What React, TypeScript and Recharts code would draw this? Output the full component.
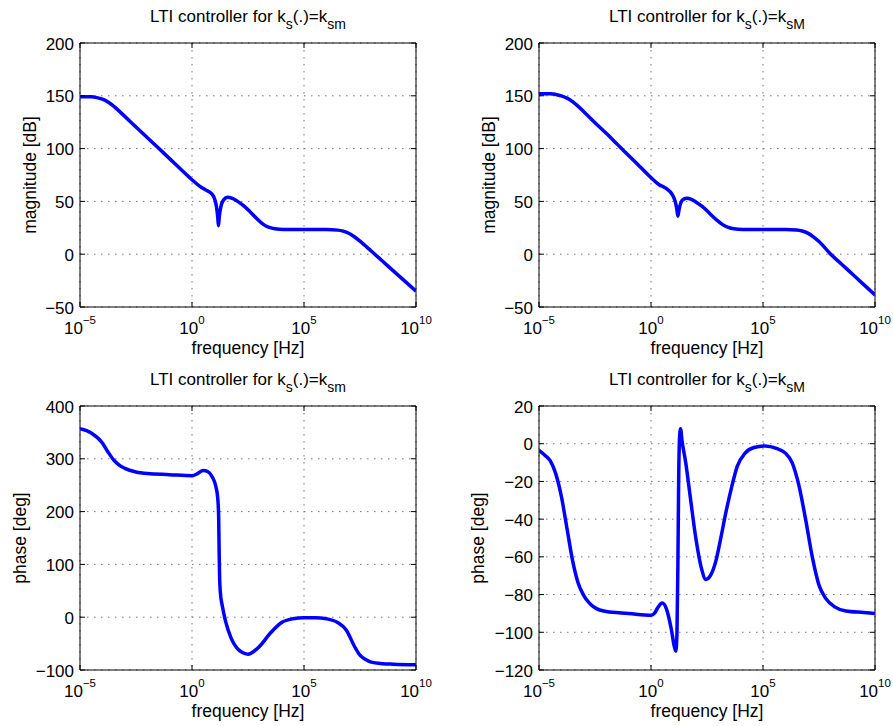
import React from 'react';
import { LineChart, Line, XAxis, YAxis, CartesianGrid, ReferenceArea } from 'recharts';

const FONT = '"Liberation Sans", Arial, Helvetica, sans-serif';

// x axis: log10(frequency [Hz])
const xTicks = [-5, 0, 5, 10];
const magTicks = [-50, 0, 50, 100, 150, 200];
const phaseSmTicks = [-100, 0, 100, 200, 300, 400];
const phaseSMTicks = [-120, -100, -80, -60, -40, -20, 0, 20];

// magnitude, k_s = k_sm
const magSmExp = [-5, -4.5, -4.25, -4, -3.75, -3.5, -3.25, -3, -2.5, -2, -1.5, -1, -0.5, 0, 0.37, 0.6, 0.89, 1.03, 1.1, 1.15, 1.18, 1.22, 1.3, 1.41, 1.59, 1.8, 2.0, 2.3, 2.6, 2.9, 3.2, 3.45, 3.7, 4.1, 5, 6, 6.5, 6.75, 7, 7.25, 7.5, 8, 8.5, 9, 9.5, 10];
const magSmDb = [149, 149, 148.3, 146.8, 144.2, 140.3, 135.5, 130.5, 120.5, 110.5, 100.5, 90.5, 80.5, 70.5, 64, 61, 57, 51, 44, 35, 27, 36, 46, 51.5, 54, 52.8, 50.5, 46, 40, 33.5, 28, 25.3, 24, 23.4, 23.3, 23.3, 22.8, 21.8, 19.8, 16.5, 12.3, 3, -6.5, -16, -25.5, -35];

// magnitude, k_s = k_sM
const magSMExp = [-5, -4.5, -4.25, -4, -3.75, -3.5, -3.25, -3, -2.5, -2, -1.5, -1, -0.5, 0, 0.35, 0.66, 0.96, 1.08, 1.15, 1.2, 1.25, 1.33, 1.45, 1.6, 1.8, 2.0, 2.3, 2.6, 2.9, 3.2, 3.45, 3.7, 4.1, 5, 6, 6.5, 6.75, 7, 7.25, 7.5, 8, 8.5, 9, 9.5, 10];
const magSMDb = [152, 152, 151.3, 150, 147.8, 144.5, 140, 135, 124.5, 114.5, 104, 93.5, 83, 72.5, 66, 62.5, 56, 50, 43, 36, 42, 48.5, 52, 53, 52, 49.5, 45, 39, 33, 28, 25.3, 24, 23.5, 23.5, 23.5, 23, 22, 20, 16.5, 12, 0.5, -9.3, -19, -28.8, -38.5];

// phase, k_s = k_sm
const phaseSmExp = [-5, -4.5, -4, -3.75, -3.5, -3.25, -3, -2.5, -2, -1, 0, 0.25, 0.5, 0.7, 0.9, 1.05, 1.15, 1.19, 1.21, 1.23, 1.27, 1.35, 1.5, 1.75, 2, 2.25, 2.5, 2.75, 3, 3.5, 4, 4.5, 5, 5.5, 6, 6.5, 6.9, 7.25, 7.5, 7.75, 8, 8.5, 9, 10];
const phaseSmDeg = [357, 349, 330, 313, 298, 288, 282, 275, 272, 270, 268, 272, 278, 276, 266, 250, 225, 190, 130, 80, 45, 22, -8, -40, -58, -67, -70, -65, -56, -30, -10, -3, -1, -1, -3, -10, -25, -55, -72, -80, -85, -88, -89, -90];

// phase, k_s = k_sM
const phaseSMExp = [-5, -4.75, -4.5, -4.25, -4, -3.75, -3.5, -3.25, -3, -2.75, -2.5, -2, -1, 0, 0.15, 0.3, 0.5, 0.7, 0.9, 1.05, 1.11, 1.16, 1.2, 1.23, 1.27, 1.32, 1.38, 1.55, 1.75, 2, 2.25, 2.45, 2.65, 2.9, 3.1, 3.35, 3.6, 3.85, 4.2, 4.6, 5.1, 5.6, 6, 6.3, 6.6, 6.9, 7.2, 7.5, 7.8, 8.2, 8.7, 9.5, 10];
const phaseSMDeg = [-3.5, -6, -9, -16, -28, -45, -62, -74, -80.5, -84.5, -87, -89, -90, -91, -90, -87, -84.5, -88, -98, -108, -110, -100, -65, -25, 2, 8, 2, -10, -28, -50, -66, -72, -70, -62, -51, -36, -23, -12, -5, -2, -1.2, -2.5, -5, -10, -22, -40, -60, -75, -82, -86.5, -88.7, -89.5, -90];

const CHART_H = 363;
const PLOT_TOP = 43;
const X_AXIS_H = 56;
const PLOT_H = CHART_H - PLOT_TOP - X_AXIS_H;

const fmt = (v: number) => (v < 0 ? '\u2212' + Math.abs(v) : String(v));

const XTick = (props: any) => {
  const { x, y, payload, plotH } = props;
  return (
    <g>
      <line x1={x} x2={x} y1={y} y2={y - 5} stroke="#000" strokeWidth={1} />
      <line x1={x} x2={x} y1={y - plotH} y2={y - plotH + 5} stroke="#000" strokeWidth={1} />
      <text x={x} y={y + 27} textAnchor="middle" fontSize={17} fontFamily={FONT} fill="#000">
        10
        <tspan dy={-10} fontSize={11.5}>{fmt(payload.value)}</tspan>
      </text>
    </g>
  );
};

const YTick = (props: any) => {
  const { x, y, payload, plotW } = props;
  return (
    <g>
      <line x1={x} x2={x + 5} y1={y} y2={y} stroke="#000" strokeWidth={1} />
      <line x1={x + plotW - 5} x2={x + plotW} y1={y} y2={y} stroke="#000" strokeWidth={1} />
      <text x={x - 6} y={y} dy={6.5} textAnchor="end" fontSize={17} fontFamily={FONT} fill="#000">
        {fmt(payload.value)}
      </text>
    </g>
  );
};

const makeYLabel = (text: string, gap: number) => (props: any) => {
  const vb = props.viewBox || { x: 0, y: PLOT_TOP, width: 80, height: PLOT_H };
  const cx = vb.x + vb.width - gap;
  const cy = vb.y + vb.height / 2;
  return (
    <text
      x={cx}
      y={cy}
      transform={`rotate(-90 ${cx} ${cy})`}
      textAnchor="middle"
      dominantBaseline="central"
      fontSize={17.5}
      fontFamily={FONT}
      fill="#000"
    >
      {text}
    </text>
  );
};

type PanelProps = {
  left: number;
  top: number;
  width: number;
  plotLeft: number;
  plotRight: number;
  exps: number[];
  vals: number[];
  yDomain: [number, number];
  yTicks: number[];
  yLabel: string;
  yLabelGap: number;
  sub: string;
};

const Panel = (p: PanelProps) => {
  const data = p.exps.map((e, i) => ({ e, v: p.vals[i] }));
  const plotW = p.width - p.plotLeft - p.plotRight;
  const subStyle: React.CSSProperties = { fontSize: 14, verticalAlign: -7, lineHeight: 0 };
  return (
    <div style={{ position: 'absolute', left: p.left, top: p.top, width: p.width, height: CHART_H }}>
      <div
        style={{
          position: 'absolute',
          left: p.plotLeft + plotW / 2 - 150,
          width: 300,
          top: 8,
          textAlign: 'center',
          fontFamily: FONT,
          fontSize: 17,
          lineHeight: '17px',
          color: '#000',
          whiteSpace: 'nowrap',
        }}
      >
        LTI controller for k<span style={subStyle}>s</span>(.)=k<span style={subStyle}>{p.sub}</span>
      </div>
      <LineChart
        width={p.width}
        height={CHART_H}
        data={data}
        margin={{ top: PLOT_TOP, right: p.plotRight, bottom: 0, left: 0 }}
      >
        <CartesianGrid stroke="#777" strokeDasharray="1.5 5.5" strokeWidth={1} />
        <XAxis
          dataKey="e"
          type="number"
          domain={[-5, 10]}
          ticks={xTicks}
          interval={0}
          height={X_AXIS_H}
          tickSize={0}
          tickMargin={0}
          tickLine={false}
          axisLine={false}
          allowDataOverflow
          tick={<XTick plotH={PLOT_H} />}
          label={{ value: 'frequency [Hz]', position: 'insideBottom', offset: 9, fill: '#000', fontSize: 17.5, fontFamily: FONT }}
        />
        <YAxis
          type="number"
          domain={p.yDomain}
          ticks={p.yTicks}
          interval={0}
          width={p.plotLeft}
          tickSize={0}
          tickMargin={0}
          tickLine={false}
          axisLine={false}
          allowDataOverflow
          tick={<YTick plotW={plotW} />}
          label={{ value: p.yLabel, content: makeYLabel(p.yLabel, p.yLabelGap) }}
        />
        <ReferenceArea
          x1={-5}
          x2={10}
          y1={p.yDomain[0]}
          y2={p.yDomain[1]}
          fill="none"
          fillOpacity={0}
          stroke="#000"
          strokeWidth={1}
          strokeOpacity={1}
        />
        <Line
          dataKey="v"
          type="monotone"
          stroke="#0000ff"
          strokeWidth={3.5}
          dot={false}
          activeDot={false}
          isAnimationActive={false}
        />
      </LineChart>
    </div>
  );
};

export default function App() {
  return (
    <div style={{ position: 'absolute', left: 0, top: 0, width: 893, height: 726, background: '#fff' }}>
      <Panel left={0} top={0} width={446} plotLeft={80} plotRight={30} exps={magSmExp} vals={magSmDb}
        yDomain={[-50, 200]} yTicks={magTicks} yLabel="magnitude [dB]" yLabelGap={50} sub="sm" />
      <Panel left={446} top={0} width={447} plotLeft={93} plotRight={18} exps={magSMExp} vals={magSMDb}
        yDomain={[-50, 200]} yTicks={magTicks} yLabel="magnitude [dB]" yLabelGap={50} sub="sM" />
      <Panel left={0} top={363} width={446} plotLeft={80} plotRight={30} exps={phaseSmExp} vals={phaseSmDeg}
        yDomain={[-100, 400]} yTicks={phaseSmTicks} yLabel="phase [deg]" yLabelGap={60} sub="sm" />
      <Panel left={446} top={363} width={447} plotLeft={93} plotRight={18} exps={phaseSMExp} vals={phaseSMDeg}
        yDomain={[-120, 20]} yTicks={phaseSMTicks} yLabel="phase [deg]" yLabelGap={61} sub="sM" />
    </div>
  );
}
